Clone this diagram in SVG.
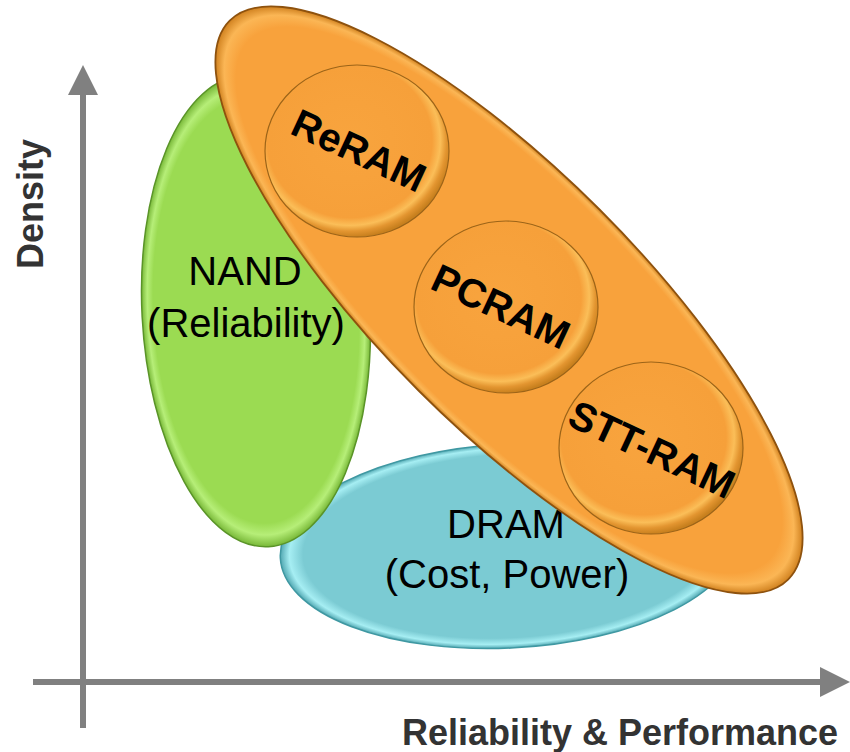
<svg xmlns="http://www.w3.org/2000/svg" width="850" height="752" viewBox="0 0 850 752">
  <style>
    .axis { stroke: #808080; stroke-width: 6; fill: none; }
    .axis-label { font-family: "Liberation Sans", Arial, sans-serif; font-weight: bold; font-size: 36px; fill: #333333; }
    .plain { font-family: "Liberation Sans", Arial, sans-serif; font-size: 40px; fill: #000000; text-anchor: middle; }
    .tech { font-family: "Liberation Sans", Arial, sans-serif; font-weight: bold; font-size: 40px; fill: #000000; text-anchor: middle; }
  </style>
  <defs>
    <marker id="arrow" viewBox="0 0 10 10" refX="0" refY="5" markerWidth="5" markerHeight="5" orient="auto" markerUnits="strokeWidth">
      <path d="M0,0 L10,5 L0,10 z" fill="#808080"/>
    </marker>
    <!-- bevelled rims for the region ellipses -->
    <radialGradient id="gGreen" cx="0.5" cy="0.5" r="0.5">
      <stop offset="0" stop-color="#9BDB52"/>
      <stop offset="0.90" stop-color="#9BDB52"/>
      <stop offset="0.95" stop-color="#B6EE78"/>
      <stop offset="1" stop-color="#78B838"/>
    </radialGradient>
    <radialGradient id="gCyan" cx="0.5" cy="0.5" r="0.5">
      <stop offset="0" stop-color="#7BCBD3"/>
      <stop offset="0.90" stop-color="#7BCBD3"/>
      <stop offset="0.96" stop-color="#A6EEF3"/>
      <stop offset="1" stop-color="#52A8B2"/>
    </radialGradient>
    <radialGradient id="gOrange" cx="0.5" cy="0.5" r="0.5">
      <stop offset="0" stop-color="#F8A23C"/>
      <stop offset="0.93" stop-color="#F8A23C"/>
      <stop offset="0.97" stop-color="#FBB655"/>
      <stop offset="1" stop-color="#D0811F"/>
    </radialGradient>
    <radialGradient id="gDisk" cx="0.46" cy="0.44" r="0.56">
      <stop offset="0" stop-color="#F8A43E"/>
      <stop offset="0.80" stop-color="#F6A03A"/>
      <stop offset="0.88" stop-color="#FBBE58"/>
      <stop offset="0.94" stop-color="#E39530"/>
      <stop offset="1" stop-color="#C8801E"/>
    </radialGradient>
  </defs>

  <!-- axes -->
  <g id="axes">
    <line class="axis" x1="83" y1="728" x2="83" y2="95" marker-end="url(#arrow)"/>
    <line class="axis" x1="33" y1="682" x2="820" y2="682" marker-end="url(#arrow)"/>
    <text class="axis-label" text-anchor="middle" transform="translate(43,204) rotate(-90)">Density</text>
    <text class="axis-label" x="620" y="745" text-anchor="middle" font-size="37">Reliability &amp; Performance</text>
  </g>

  <!-- DRAM region -->
  <g id="dram">
    <ellipse cx="509" cy="546" rx="229" ry="102" transform="rotate(-3 509 546)" fill="url(#gCyan)" stroke="#3F98A2" stroke-width="1.5"/>
    <text class="plain" x="506" y="538">DRAM</text>
    <text class="plain" x="507" y="588">(Cost, Power)</text>
  </g>

  <!-- NAND region -->
  <g id="nand">
    <ellipse cx="256" cy="311" rx="114" ry="236" transform="rotate(-3 256 311)" fill="url(#gGreen)" stroke="#5A9428" stroke-width="1.5"/>
    <text class="plain" x="245" y="285">NAND</text>
    <text class="plain" x="246" y="337">(Reliability)</text>
  </g>

  <!-- emerging memories band -->
  <g id="emerging">
    <ellipse cx="509" cy="300" rx="395" ry="128" transform="rotate(45 509 300)" fill="url(#gOrange)" stroke="#8E520E" stroke-width="1.8"/>
  </g>

  <g id="reram">
    <ellipse cx="357" cy="151" rx="92" ry="86" fill="url(#gDisk)" stroke="#9C6418" stroke-width="1.2"/>
    <text class="tech" transform="translate(353,163) rotate(25)">ReRAM</text>
  </g>

  <g id="pcram">
    <ellipse cx="506" cy="307" rx="92" ry="86" fill="url(#gDisk)" stroke="#9C6418" stroke-width="1.2"/>
    <text class="tech" transform="translate(495,319) rotate(25)">PCRAM</text>
  </g>

  <g id="sttram">
    <ellipse cx="651" cy="448" rx="92" ry="86" fill="url(#gDisk)" stroke="#9C6418" stroke-width="1.2"/>
    <text class="tech" transform="translate(646,462) rotate(25)">STT-RAM</text>
  </g>
</svg>
